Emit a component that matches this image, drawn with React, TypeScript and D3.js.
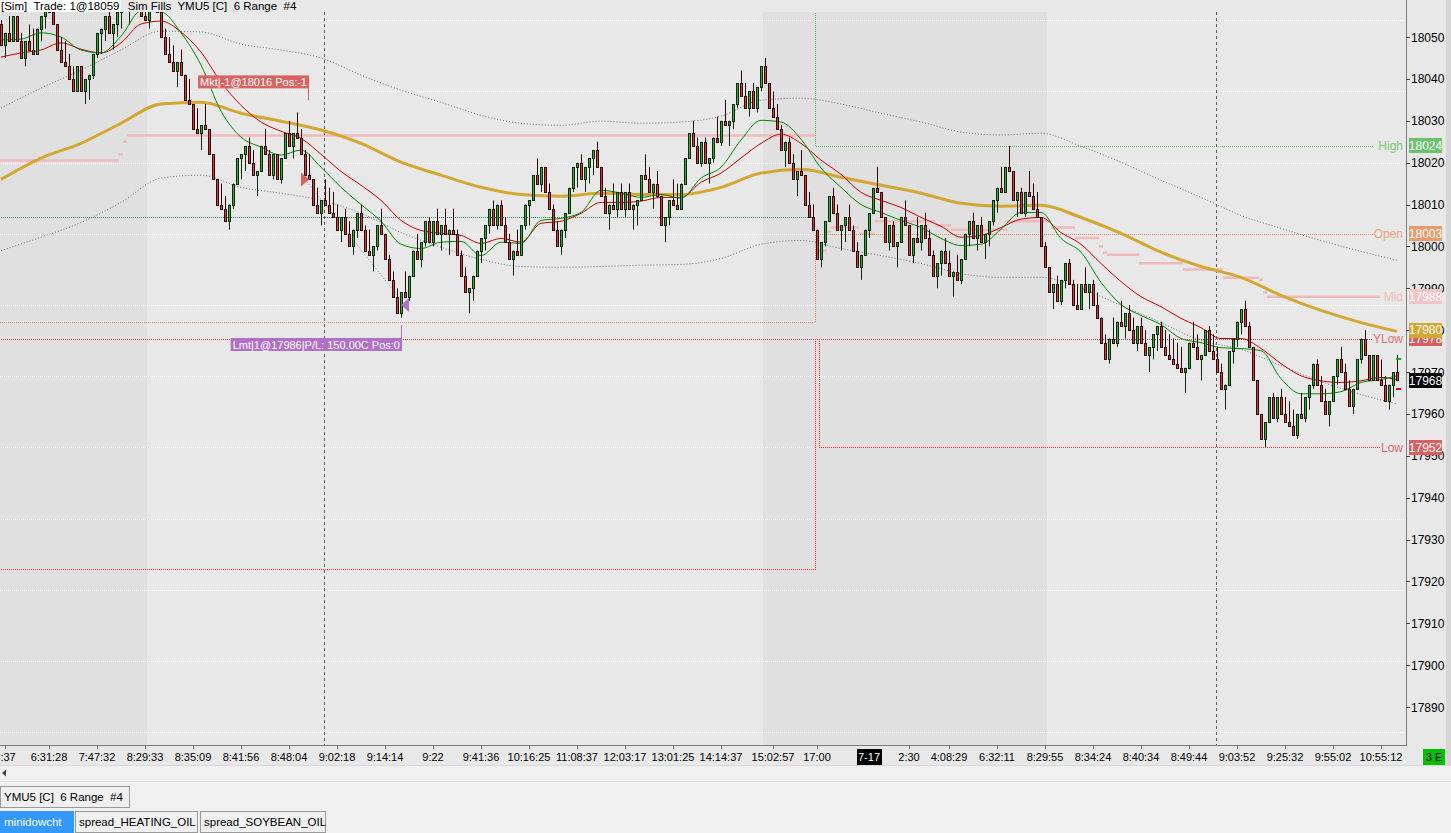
import React, { useLayoutEffect, useRef, useState } from 'react';
import * as d3 from 'd3';

// ---- bar data (6 range bars, closes per session) ----
const firstOpen = 18053;
const rangeTicks = 6;

const closesEvening = [
  18048, 18051, 18049, 18055, 18049, 18045, 18049, 18047, 18046, 18052,
  18055, 18058, 18056, 18053, 18047, 18044, 18043, 18040, 18037, 18043,
  18037, 18040, 18041, 18046, 18051, 18052, 18055, 18051, 18053, 18056,
  18058, 18057, 18059, 18058, 18057, 18055, 18054,
];
const closesDay1 = [
  18058, 18057, 18056, 18050, 18046, 18044, 18042, 18044, 18041, 18035,
  18034, 18028, 18027, 18029, 18028, 18022, 18016, 18010, 18009, 18006,
  18010, 18015, 18021, 18022, 18024, 18020, 18017, 18018, 18024, 18022,
  18017, 18022, 18016, 18021, 18027, 18024, 18027, 18026, 18022, 18017,
  18016, 18010, 18008, 18011, 18010, 18008, 18007, 18004, 18007, 18003,
  18000, 18004, 18008, 18004, 17999, 17998, 18000, 18005, 18003, 17997,
  17992, 17988, 17984, 17989, 17988, 17993, 17999, 17997, 18001, 18006,
  18001, 18006, 18003, 18005, 18003, 18004, 18003, 17998, 17993, 17989,
  17990, 17993, 17999, 18002, 18005, 18009, 18005, 18010, 18005, 18001,
  17997, 17999, 17998, 18005, 18010, 18011, 18017, 18015, 18019, 18013,
  18009, 18004, 18000, 18004, 18008, 18014, 18019, 18020, 18016, 18019,
  18021, 18023, 18019, 18012, 18008, 18010, 18009, 18013, 18009, 18013,
  18009, 18010, 18011, 18017, 18016, 18013, 18015, 18012, 18005, 18007,
  18011, 18010, 18009, 18015, 18021, 18027, 18024, 18020, 18025, 18020,
  18021, 18026, 18025, 18030, 18029, 18030, 18034, 18039, 18036, 18033,
  18037, 18033, 18038, 18043,
];
const closesNight = [
  18039, 18033, 18031, 18028, 18023, 18025, 18020, 18016, 18018, 18017,
  18010, 18007, 18004, 17997, 18001, 18006, 18012, 18008, 18004, 18005,
  18007, 18004, 17999, 17995, 17998, 18004, 18008, 18014, 18013, 18007,
  18001, 18005, 18000, 18001, 18007, 18005, 17998, 18002, 18001, 18005,
  18002, 17998, 17993, 17996, 17999, 17996, 17993, 17994, 17992, 17997,
  18003, 18006, 18002, 18005, 18001, 18003, 18006, 18011, 18014, 18013,
  18019, 18018, 18011, 18013, 18008, 18013, 18012, 18009, 18007, 18000,
  17995,
];
const closesDay2 = [
  17989, 17991, 17987, 17992, 17996, 17991, 17986, 17985, 17991, 17989,
  17991, 17986, 17983, 17977, 17973, 17978, 17977, 17982, 17981, 17984,
  17980, 17977, 17981, 17977, 17974, 17976, 17979, 17981, 17976, 17974,
  17973, 17972, 17971, 17970, 17971, 17977, 17976, 17973, 17974, 17980,
  17975, 17973, 17970, 17966, 17967, 17975, 17978, 17982, 17985, 17981,
  17976, 17968, 17960, 17954, 17958, 17964, 17959, 17964, 17960, 17958,
  17957, 17955, 17960, 17959, 17964, 17967, 17972, 17967, 17963, 17960,
  17963, 17969, 17973, 17970, 17966, 17962, 17966, 17973, 17978, 17974,
  17968, 17974, 17968, 17967, 17963, 17967, 17970, 17968,
];

// ---- indicators ----
const maBars = [...d3.range(0, 341, 10), 349];
const smaGold = [
  18016.0, 18021.1, 18024.6, 18029.4, 18034.0, 18034.4, 18031.8, 18029.9, 18027.8, 18024.6,
  18020.1, 18017.0, 18014.1, 18012.4, 18012.0, 18012.7, 18012.4, 18012.4, 18014.1, 18017.5,
  18018.4, 18016.5, 18014.6, 18012.7, 18010.3, 18009.6, 18009.8, 18006.9, 18003.1, 17998.6,
  17995.2, 17992.6, 17988.3, 17984.7, 17981.8, 17979.7,
];
const bandUpper = [
  18033.0, 18037.8, 18042.1, 18046.9, 18051.4, 18051.2, 18048.3, 18046.9, 18045.0, 18040.9,
  18037.3, 18034.4, 18031.3, 18029.4, 18028.9, 18029.9, 18029.4, 18029.7, 18031.1, 18034.9,
  18035.4, 18034.0, 18031.8, 18029.7, 18027.3, 18026.6, 18027.0, 18023.9, 18020.1, 18015.8,
  18011.7, 18007.4, 18004.3, 18001.4, 17998.8, 17996.7,
];
const bandLower = [
  17999.0, 18002.2, 18005.7, 18010.5, 18016.3, 18017.0, 18014.1, 18012.7, 18011.0, 18007.9,
  18003.3, 17999.8, 17996.9, 17995.2, 17995.0, 17995.2, 17995.5, 17995.7, 17997.1, 18000.5,
  18001.4, 17999.5, 17997.8, 17995.9, 17993.5, 17992.6, 17992.6, 17990.0, 17985.9, 17981.8,
  17977.5, 17975.4, 17971.5, 17967.7, 17964.6, 17962.4,
];
const emaBars = [...d3.range(0, 346, 5), 349];
const emaFast = [
  18049.3, 18049.5, 18051.0, 18050.0, 18046.9, 18046.2, 18050.2, 18056.2, 18056.0, 18051.0,
  18043.3, 18032.3, 18026.1, 18023.7, 18021.8, 18023.0, 18018.9, 18014.1, 18010.0, 18006.0,
  18000.5, 17999.5, 18001.0, 18001.2, 17997.8, 18001.0, 18000.7, 18006.2, 18006.7, 18008.1,
  18013.4, 18012.7, 18011.7, 18012.4, 18011.5, 18016.3, 18018.9, 18025.4, 18030.1, 18029.7,
  18025.6, 18018.7, 18014.1, 18010.0, 18008.1, 18006.2, 18004.5, 18001.9, 18000.2, 18000.5,
  18004.1, 18008.1, 18008.1, 18001.9, 17998.6, 17991.4, 17986.1, 17983.5, 17981.3, 17978.0,
  17977.0, 17975.8, 17975.6, 17975.1, 17968.4, 17964.8, 17964.8, 17965.3, 17967.5, 17968.2,
  17969.1,
];
const emaSlow = [
  18045.2, 18046.2, 18046.9, 18048.6, 18047.1, 18046.2, 18048.6, 18053.1, 18053.8, 18051.2,
  18046.4, 18039.2, 18033.7, 18029.7, 18027.5, 18025.8, 18022.0, 18017.9, 18014.6, 18011.0,
  18006.2, 18003.8, 18003.1, 18002.6, 18000.7, 18001.9, 18001.0, 18005.5, 18006.0, 18007.9,
  18010.5, 18010.5, 18010.8, 18011.7, 18011.7, 18015.3, 18017.5, 18021.1, 18024.6, 18026.8,
  18024.6, 18020.6, 18017.2, 18012.9, 18011.0, 18009.3, 18006.9, 18004.8, 18002.2, 18002.6,
  18004.5, 18006.5, 18006.9, 18003.3, 18000.5, 17995.9, 17991.6, 17988.0, 17985.6, 17982.8,
  17980.6, 17978.0, 17978.0, 17975.6, 17972.0, 17969.1, 17967.9, 17967.5, 17967.9, 17968.7,
  17968.2,
];

// ---- session levels: [fromBar, toBar, price] ----
const midSteps: [number, number, number][] = [
  [0, 29, 18020.5], [30, 30, 18022], [31, 31, 18025], [32, 203, 18026.5],
  [205, 206, 17999], [207, 207, 18003.5], [208, 214, 18004.5], [215, 218, 18003],
  [219, 233, 18006], [234, 237, 18005], [238, 251, 18004], [252, 262, 18006],
  [263, 268, 18004.5], [269, 274, 18002], [275, 275, 18000], [276, 276, 17998.5],
  [277, 284, 17998], [285, 295, 17996], [296, 305, 17994.5], [306, 314, 17992.5],
  [315, 315, 17992], [316, 316, 17989], [317, 349, 17988],
];
const highSteps: [number, number, number][] = [[0, 203, 18059], [204, 349, 18024]];
const openSteps: [number, number, number][] = [[0, 203, 17982], [204, 349, 18003]];
const lowSteps: [number, number, number][] = [[0, 203, 17923], [204, 204, 17978], [205, 349, 17952]];
const settleSteps: [number, number, number][] = [[0, 203, 18007]];
const yLowSteps: [number, number, number][] = [[0, 349, 17978]];

const gridPrices = [18054, 18037, 18020, 18003, 17986, 17969, 17952, 17935, 17918, 17901, 17884];
const priceTicks = [17890, 17900, 17910, 17920, 17930, 17940, 17950, 17960, 17970, 17980,
  17990, 18000, 18010, 18020, 18030, 18040, 18050];

const timeLabels = ['5:37', '6:31:28', '7:47:32', '8:29:33', '8:35:09', '8:41:56', '8:48:04',
  '9:02:18', '9:14:14', '9:22', '9:41:36', '10:16:25', '11:08:37', '12:03:17', '13:01:25',
  '14:14:37', '15:02:57', '17:00', '7-17', '2:30', '4:08:29', '6:32:11', '8:29:55', '8:34:24',
  '8:40:34', '8:49:44', '9:03:52', '9:25:32', '9:55:02', '10:55:12'];
const timeLabelBars = [1, 12, 24, 36, 48, 60, 72, 84, 96, 108, 120, 132, 144, 156, 168, 180,
  193, 204, 217, 227, 237, 249, 261, 273, 285, 297, 309, 321, 333, 345];

const shadedSessions: [number, number][] = [[0, 36], [191, 261]];
const sessionBreakBars = [81, 304];

const executions = [
  { bar: 77, price: 18016, side: 'sell', text: 'Mkt|-1@18016 Pos:-1' },
  { bar: 100, price: 17986, side: 'buy', text: 'Lmt|1@17986|P/L: 150.00C Pos:0' },
];

const levelTags = [
  { name: 'High', price: 18024, box: '#6cc26c', text: '#74cc74' },
  { name: 'Open', price: 18003, box: '#e99b6d', text: '#eba37a' },
  { name: 'Mid', price: 17988, box: '#f4c4c4', text: '#f1bcbc' },
  { name: 'YLow', price: 17978, box: '#d95f5f', text: '#e07070' },
  { name: 'Low', price: 17952, box: '#d96060', text: '#e06464' },
];
const smaLast = 17980;
const lastPrice = 17968;
const nextBarMarks = [{ price: 17973, color: '#10b010' }, { price: 17966, color: '#d01010' }];

const closes = [...closesEvening, ...closesDay1, ...closesNight, ...closesDay2];
const bars = closes.map((c, i) => {
  const o = i === 0 ? firstOpen : closes[i - 1];
  let h = c;
  let l = c;
  if (c > o) { h = c; l = Math.min(o, c - rangeTicks); }
  else if (c < o) { l = c; h = Math.max(o, c + rangeTicks); }
  else { h = c + rangeTicks / 2; l = c - rangeTicks / 2; }
  return { i, o, h, l, c };
});

const W = 1451;
const H = 833;
const plot = { left: 0, right: 1406, top: 12, bottom: 745 };
const FONT = "'Liberation Sans', Arial, sans-serif";

const x = d3.scaleLinear().domain([0, closes.length - 1]).range([1, 1397]);
const y = d3.scaleLinear().domain([17890, 18050]).range([707, 37]);

const series = d3.line<[number, number]>()
  .x(d => x(d[0]))
  .y(d => y(d[1]))
  .curve(d3.curveMonotoneX);

const zipBars = (idx: number[], vals: number[]) => idx.map((b, k) => [b, vals[k]] as [number, number]);

const labelEnd = (name: string) => 1403 - name.length * 7 - 2;

// dotted step line drawn as 1px rects filled with a checker pattern (crisp coloured dots)
function stepRects(steps: [number, number, number][], endX: number) {
  const out: { x: number; y: number; w: number; h: number }[] = [];
  let prevY: number | null = null;
  steps.forEach(([s, e, v], k) => {
    const x0 = k === 0 ? plot.left : Math.round(x(s) - 2);
    const x1 = k === steps.length - 1 ? endX : Math.round(x(e) + 2);
    const yy = Math.round(y(v));
    if (prevY !== null) {
      out.push({ x: x0, y: Math.min(prevY, yy), w: 1, h: Math.abs(prevY - yy) + 1 });
    }
    out.push({ x: x0, y: yy, w: Math.max(1, x1 - x0), h: 1 });
    prevY = yy;
  });
  return out;
}

const DottedSteps = ({ steps, endX, id }: any) => (
  <g fill={`url(#${id})`}>
    {stepRects(steps, endX).map((r, k) => <rect key={k} x={r.x} y={r.y} width={r.w} height={r.h} />)}
  </g>
);

const BoxLabel = ({ right, top, text, fill }: any) => {
  const ref = useRef<SVGTextElement>(null);
  const [w, setW] = useState(text.length * 5.4);
  useLayoutEffect(() => {
    if (ref.current) setW(ref.current.getComputedTextLength() + 4);
  }, [text]);
  return (
    <g>
      <rect x={right - w} y={top} width={w} height={13} fill={fill} />
      <text ref={ref} x={right - 2} y={top + 10.5} fontSize={11} fill="#fff" textAnchor="end">{text}</text>
    </g>
  );
};

const PriceTag = ({ price, fill, color = '#fff' }: any) => {
  const cy = y(price);
  return (
    <g>
      <rect x={1409} y={Math.round(cy - 7.5)} width={33} height={15} fill={fill} />
      <text x={1425.5} y={cy + 4.3} fontSize={12} textAnchor="middle" fill={color}>{price}</text>
    </g>
  );
};

const Tab = ({ x0, y0, w, h, label, active }: any) => (
  <g>
    <rect x={x0 + 0.5} y={y0 + 0.5} width={w} height={h} fill={active ? '#3399ff' : '#f0f0f0'}
      stroke={active ? '#3399ff' : '#9a9a9a'} />
    <text x={x0 + 4} y={y0 + h / 2 + 4.5} fontSize={11.5} fill={active ? '#fff' : '#000'}
      style={{ whiteSpace: 'pre' }}>{label}</text>
  </g>
);

const dotColors: Record<string, string> = {
  dotWhite: '#ffffff',
  dotSettle: '#2a8a5e',
  dotYLow: '#c04040',
  dotOpen: '#ee9060',
  dotHigh: '#40c440',
  dotLow: '#ff2a2a',
};

export default function App() {
  const headRef = useRef<SVGTextElement>(null);
  const [headW, setHeadW] = useState(118);
  useLayoutEffect(() => {
    if (headRef.current) setHeadW(headRef.current.getComputedTextLength() + 2);
  }, []);

  const sell = executions[0];
  const buy = executions[1];

  return (
    <div style={{ width: W, height: H }}>
      <style>{`body{margin:0;background:#f0f0f0}`}</style>
      <svg width={W} height={H} style={{ display: 'block', fontFamily: FONT }}>
        <defs>
          <clipPath id="plotClip">
            <rect x={plot.left} y={plot.top} width={plot.right - plot.left} height={plot.bottom - plot.top} />
          </clipPath>
          {Object.entries(dotColors).map(([id, c]) => (
            <pattern key={id} id={id} patternUnits="userSpaceOnUse" width={2} height={2}>
              <rect x={0} y={0} width={1} height={1} fill={c} />
              <rect x={1} y={1} width={1} height={1} fill={c} />
            </pattern>
          ))}
        </defs>
        <rect x={0} y={0} width={W} height={H} fill="#f0f0f0" />
        <rect x={0} y={0} width={1446} height={765} fill="#e8e8e8" />
        <rect x={1446} y={0} width={5} height={765} fill="#d6d6d6" />

        <g clipPath="url(#plotClip)">
          {shadedSessions.map(([s, e], k) => (
            <rect key={k} x={Math.max(0, x(s) - 2)} y={plot.top} width={x(e) + 2 - Math.max(0, x(s) - 2)}
              height={plot.bottom - plot.top} fill="#e0e0e0" />
          ))}
          {gridPrices.map(p => (
            <rect key={p} x={0} y={Math.round(y(p))} width={plot.right} height={1} fill="url(#dotWhite)" />
          ))}
          {midSteps.map(([s, e, v], k) => (
            <line key={k} x1={s === 0 ? 0 : x(s) - 2} x2={e === closes.length - 1 ? labelEnd('Mid') : x(e) + 2}
              y1={y(v)} y2={y(v)} stroke="#f2b9bb" strokeWidth={2.5} />
          ))}
          <DottedSteps steps={settleSteps} endX={Math.round(x(203) + 2)} id="dotSettle" />
          <DottedSteps steps={yLowSteps} endX={labelEnd('YLow')} id="dotYLow" />
          <DottedSteps steps={openSteps} endX={labelEnd('Open')} id="dotOpen" />
          <DottedSteps steps={highSteps} endX={labelEnd('High')} id="dotHigh" />
          <DottedSteps steps={lowSteps} endX={labelEnd('Low')} id="dotLow" />

          {sessionBreakBars.map(b => (
            <line key={b} x1={Math.round(x(b)) - 0.5} x2={Math.round(x(b)) - 0.5} y1={plot.top} y2={plot.bottom}
              stroke="#5c5c5c" strokeDasharray="3,3" shapeRendering="crispEdges" />
          ))}

          <path d={series(zipBars(maBars, bandUpper)) || ''} fill="none" stroke="#6a6a6a" strokeDasharray="1,2" />
          <path d={series(zipBars(maBars, bandLower)) || ''} fill="none" stroke="#6a6a6a" strokeDasharray="1,2" />
          <path d={series(zipBars(maBars, smaGold)) || ''} fill="none" stroke="#d4a733" strokeWidth={3} />
          <path d={series(zipBars(emaBars, emaSlow)) || ''} fill="none" stroke="#cc0000" strokeWidth={1} />
          <path d={series(zipBars(emaBars, emaFast)) || ''} fill="none" stroke="#008a00" strokeWidth={1} />

          <line x1={x(sell.bar) - 4} y1={y(sell.price)} x2={x(buy.bar) + 4} y2={y(buy.price)}
            stroke="#858585" strokeDasharray="1,2" />

          {bars.map(b => {
            const cx = Math.round(x(b.i));
            const up = b.c > b.o;
            const dark = up ? '#0f2a0f' : '#2e0a0a';
            const top = Math.round(y(Math.max(b.o, b.c))) + 0.5;
            const bot = Math.round(y(Math.min(b.o, b.c))) + 0.5;
            return (
              <g key={b.i}>
                <line x1={cx + 0.5} x2={cx + 0.5} y1={y(b.h)} y2={y(b.l)} stroke={dark} />
                <rect x={cx - 0.5} y={top} width={2} height={Math.max(bot - top, 1)}
                  fill={up ? '#33a833' : b.c < b.o ? '#d43c3c' : dark} stroke={dark} />
              </g>
            );
          })}

          {nextBarMarks.map(m => (
            <rect key={m.price} x={1396} y={Math.round(y(m.price)) - 1} width={5} height={2} fill={m.color} />
          ))}

          {/* executions */}
          <path d={`M${x(sell.bar) - 8},${y(sell.price) - 7}L${x(sell.bar)},${y(sell.price)}L${x(sell.bar) - 8},${y(sell.price) + 7}Z`}
            fill="#d96363" />
          <line x1={x(sell.bar) - 0.5} x2={x(sell.bar) - 0.5} y1={y(sell.price) - 91} y2={y(sell.price) - 79} stroke="#d96363" />
          <BoxLabel right={x(sell.bar)} top={y(sell.price) - 104} text={sell.text} fill="#d96363" />

          <path d={`M${x(buy.bar) + 8},${y(buy.price) - 7}L${x(buy.bar)},${y(buy.price)}L${x(buy.bar) + 8},${y(buy.price) + 7}Z`}
            fill="#b06fc9" />
          <line x1={x(buy.bar) + 0.5} x2={x(buy.bar) + 0.5} y1={y(buy.price) + 20} y2={y(buy.price) + 33} stroke="#b06fc9" />
          <BoxLabel right={x(buy.bar) + 1} top={y(buy.price) + 33} text={buy.text} fill="#b06fc9" />
        </g>

        {/* level names next to the price axis */}
        {levelTags.map(t => (
          <text key={t.name} x={1403} y={y(t.price) + 4.5} fontSize={12} textAnchor="end" fill={t.text}>{t.name}</text>
        ))}

        {/* axes */}
        <line x1={plot.right + 0.5} x2={plot.right + 0.5} y1={0} y2={plot.bottom + 0.5} stroke="#7c7c7c" />
        <line x1={0} x2={plot.right + 0.5} y1={plot.bottom + 0.5} y2={plot.bottom + 0.5} stroke="#7c7c7c" />
        {priceTicks.map(p => (
          <g key={p}>
            <line x1={plot.right} x2={plot.right + 4} y1={Math.round(y(p)) + 0.5} y2={Math.round(y(p)) + 0.5} stroke="#444" />
            <text x={1411} y={y(p) + 4.5} fontSize={12} fill="#000">{p}</text>
          </g>
        ))}
        {timeLabels.map((t, k) => {
          const lx = Math.round(x(timeLabelBars[k])) + 0.5;
          const isDate = t === '7-17';
          return (
            <g key={t + k}>
              {!isDate && <line x1={lx} x2={lx} y1={plot.bottom} y2={plot.bottom + 4} stroke="#7c7c7c" />}
              {isDate && <rect x={lx - 12.5} y={749} width={25} height={16} fill="#000" />}
              <text x={lx - 0.5} y={761} fontSize={11} textAnchor="middle" fill={isDate ? '#fff' : '#000'}>{t}</text>
            </g>
          );
        })}
        <rect x={1423} y={749} width={22} height={16} fill="#00c000" />
        <text x={1434} y={761} fontSize={11} textAnchor="middle" fill="#000" style={{ whiteSpace: 'pre' }}>3 E</text>

        {/* price tags on the axis */}
        {levelTags.filter(t => t.name !== 'Low').map(t => (
          <PriceTag key={t.name} price={t.price} fill={t.box} />
        ))}
        <PriceTag price={smaLast} fill="#d4a733" />
        <PriceTag price={lastPrice} fill="#000" />
        <PriceTag price={levelTags[4].price} fill={levelTags[4].box} />

        {/* header */}
        <rect x={0} y={0} width={headW} height={12} fill="#ffffff" />
        <text ref={headRef} x={1} y={10} fontSize={11.5} fill="#000" style={{ whiteSpace: 'pre' }}>{'[Sim]  Trade: 1@18059'}</text>
        <text x={headW + 1} y={10} fontSize={11.5} fill="#000" style={{ whiteSpace: 'pre' }}>{'  Sim Fills  YMU5 [C]  6 Range  #4'}</text>

        {/* lower strip: scroll row and tabs */}
        <line x1={0} x2={W} y1={765.5} y2={765.5} stroke="#d8d8d8" />
        <path d="M2,773L6,769.5L6,776.5Z" fill="#444" />
        <line x1={0} x2={W} y1={781.5} y2={781.5} stroke="#e2e2e2" />
        <Tab x0={0} y0={786} w={129} h={21} label="YMU5 [C]  6 Range  #4" />
        <Tab x0={0} y0={811} w={73} h={21} label="minidowcht" active />
        <Tab x0={75} y0={811} w={122} h={21} label="spread_HEATING_OIL" />
        <Tab x0={200} y0={811} w={125} h={21} label="spread_SOYBEAN_OIL" />
      </svg>
    </div>
  );
}
